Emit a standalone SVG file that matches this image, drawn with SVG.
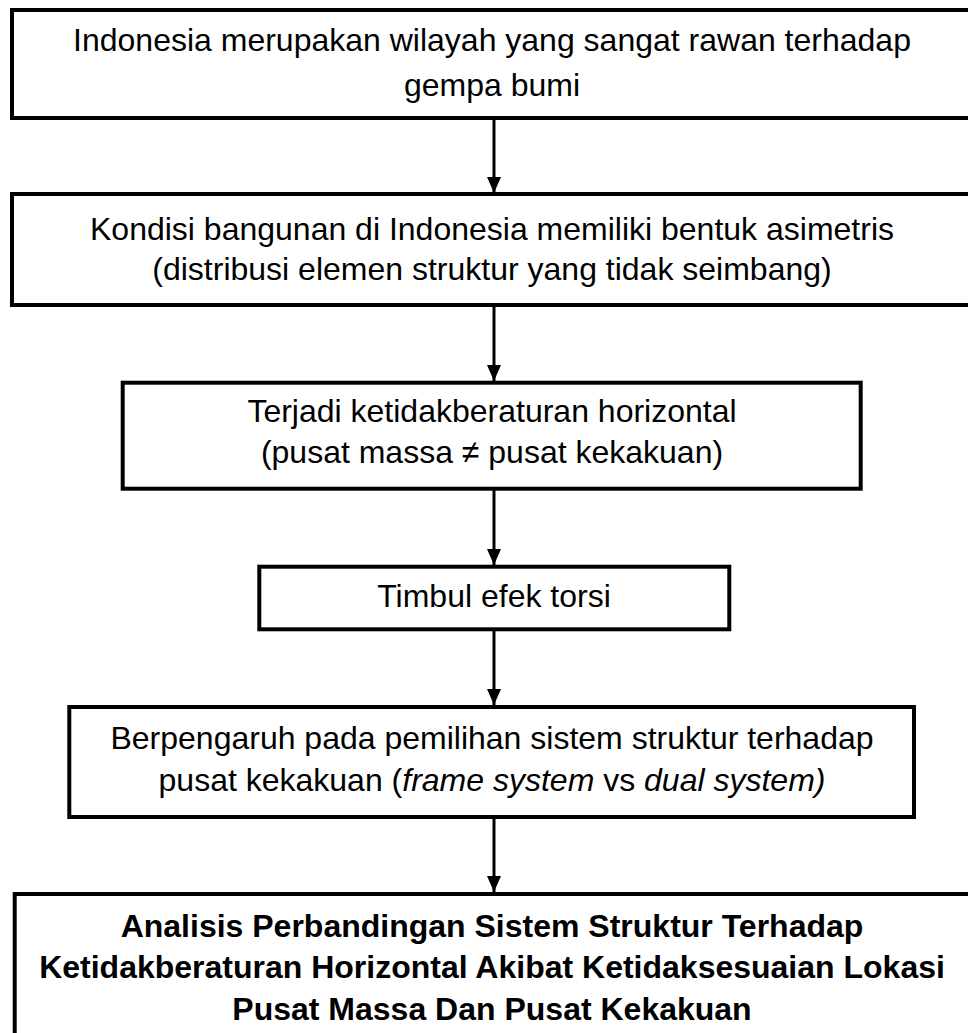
<svg xmlns="http://www.w3.org/2000/svg" width="968" height="1033" viewBox="0 0 968 1033">
<defs>
<style>
.box{fill:#fff;stroke:#000;stroke-width:4}
.t{font-family:"Liberation Sans",Arial,sans-serif;font-size:32px;fill:#000;text-anchor:middle}
.b{font-weight:bold}
.c{stroke:#000;stroke-width:3;fill:none}
</style>
<marker id="ah" markerWidth="16" markerHeight="14" refX="16" refY="7" orient="auto" markerUnits="userSpaceOnUse">
<path d="M0,0 L16,7 L0,14 Z" fill="#000"/>
</marker>
</defs>
<rect width="968" height="1033" fill="#fff"/>
<g id="connectors">
<line class="c" x1="494" y1="118" x2="494" y2="193" marker-end="url(#ah)"/>
<line class="c" x1="494" y1="305" x2="494" y2="381" marker-end="url(#ah)"/>
<line class="c" x1="494" y1="489" x2="494" y2="565" marker-end="url(#ah)"/>
<line class="c" x1="494" y1="629" x2="494" y2="705" marker-end="url(#ah)"/>
<line class="c" x1="494" y1="817" x2="494" y2="892" marker-end="url(#ah)"/>
</g>
<g id="n1">
<rect class="box" x="12" y="10" width="962" height="108"/>
<text class="t" x="492" y="51">Indonesia merupakan wilayah yang sangat rawan terhadap</text>
<text class="t" x="492" y="96">gempa bumi</text>
</g>
<g id="n2">
<rect class="box" x="12" y="194" width="962" height="111"/>
<text class="t" x="492" y="240">Kondisi bangunan di Indonesia memiliki bentuk asimetris</text>
<text class="t" x="492" y="280">(distribusi elemen struktur yang tidak seimbang)</text>
</g>
<g id="n3">
<rect class="box" x="122.7" y="382.7" width="738" height="106"/>
<text class="t" x="492" y="422">Terjadi ketidakberaturan horizontal</text>
<text class="t" x="492" y="463">(pusat massa ≠ pusat kekakuan)</text>
</g>
<g id="n4">
<rect class="box" x="259.3" y="566.7" width="470" height="62.6"/>
<text class="t" x="494" y="607">Timbul efek torsi</text>
</g>
<g id="n5">
<rect class="box" x="69.3" y="707" width="844.7" height="110"/>
<text class="t" x="492" y="749">Berpengaruh pada pemilihan sistem struktur terhadap</text>
<text class="t" x="492" y="791">pusat kekakuan (<tspan font-style="italic">frame system</tspan> vs <tspan font-style="italic">dual system)</tspan></text>
</g>
<g id="n6">
<rect class="box" x="14.7" y="894" width="962" height="160"/>
<text class="t b" x="492" y="937">Analisis Perbandingan Sistem Struktur Terhadap</text>
<text class="t b" x="492" y="978">Ketidakberaturan Horizontal Akibat Ketidaksesuaian Lokasi</text>
<text class="t b" x="492" y="1020">Pusat Massa Dan Pusat Kekakuan</text>
</g>
</svg>
